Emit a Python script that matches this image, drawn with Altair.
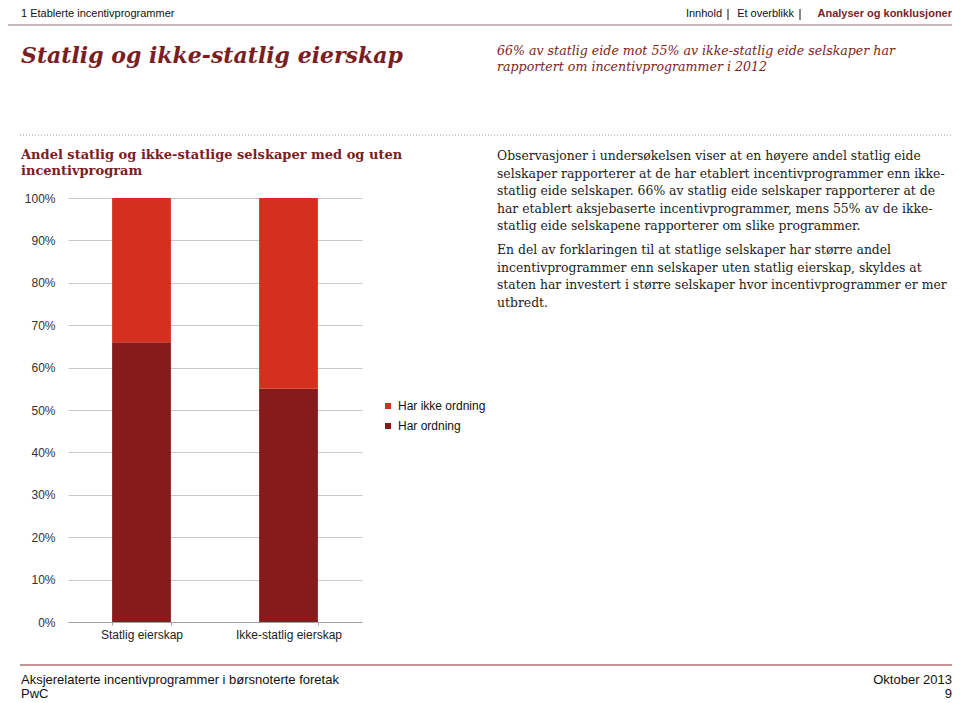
import altair as alt
import pandas as pd

# ---- data ----
categories = ["Statlig eierskap", "Ikke-statlig eierskap"]
har_ordning = [0.66, 0.55]
har_ikke_ordning = [0.34, 0.45]
series_names = ["Har ikke ordning", "Har ordning"]
y_ticks = [0, 0.1, 0.2, 0.3, 0.4, 0.5, 0.6, 0.7, 0.8, 0.9, 1.0]

header_left = "1 Etablerte incentivprogrammer"
nav_items = ["Innhold", "Et overblikk", "Analyser og konklusjoner"]
title = "Statlig og ikke-statlig eierskap"
subtitle = ["66% av statlig eide mot 55% av ikke-statlig eide selskaper har",
            "rapportert om incentivprogrammer i 2012"]
chart_title = ["Andel statlig og ikke-statlige selskaper med og uten",
               "incentivprogram"]
para1 = ["Observasjoner i undersøkelsen viser at en høyere andel statlig eide",
         "selskaper rapporterer at de har etablert incentivprogrammer enn ikke-",
         "statlig eide selskaper. 66% av statlig eide selskaper rapporterer at de",
         "har etablert aksjebaserte incentivprogrammer, mens 55% av de ikke-",
         "statlig eide selskapene rapporterer om slike programmer."]
para2 = ["En del av forklaringen til at statlige selskaper har større andel",
         "incentivprogrammer enn selskaper uten statlig eierskap, skyldes at",
         "staten har investert i større selskaper hvor incentivprogrammer er mer",
         "utbredt."]
footer_left = ["Aksjerelaterte incentivprogrammer i børsnoterte foretak", "PwC"]
footer_right = ["Oktober 2013", "9"]

RED = "#D5301F"
DARK = "#871B1C"
TITLE_RED = "#7A1E24"
SERIF = "DejaVu Serif"
SANS = "Liberation Sans"

rows = []
for i, c in enumerate(categories):
    rows.append({"kategori": c, "serie": series_names[1], "andel": har_ordning[i], "ord": 0})
    rows.append({"kategori": c, "serie": series_names[0], "andel": har_ikke_ordning[i], "ord": 1})
df = pd.DataFrame(rows)

bars = alt.Chart(df).mark_bar().encode(
    x=alt.X("kategori:N", sort=categories,
            scale=alt.Scale(paddingInner=0.6, paddingOuter=0.3),
            axis=alt.Axis(title=None, labelAngle=0, labelFont=SANS, labelFontSize=12,
                          labelColor="#222", domainColor="#A0A0A0", tickColor="#A0A0A0",
                          tickBand="extent", tickSize=3, labelPadding=4, grid=False)),
    y=alt.Y("andel:Q", stack="zero", scale=alt.Scale(domain=[0, 1]),
            axis=alt.Axis(title=None, values=y_ticks, format=".0%", labelFont=SANS,
                          labelFontSize=12, labelColor="#333", domain=False, ticks=False,
                          labelPadding=13, gridColor="#C8C8C8", grid=True)),
    color=alt.Color("serie:N", scale=alt.Scale(domain=series_names, range=[RED, DARK]),
                    legend=alt.Legend(title=None, orient="none", legendX=314, legendY=202,
                                      symbolType="square", symbolSize=36,
                                      symbolStrokeWidth=0, labelFont=SANS,
                                      labelFontSize=12, labelColor="#111", rowPadding=8,
                                      labelOffset=4, padding=0)),
    order=alt.Order("ord:Q"),
)

one = pd.DataFrame({"a": [0]})


def txt(lines, x, y, size, font=SANS, color="#111", align="left", weight="normal",
        style="normal", lh=None):
    kw = dict(text=lines, align=align, baseline="alphabetic", font=font, fontSize=size,
              color=color, fontWeight=weight, fontStyle=style)
    if lh is not None:
        kw["lineHeight"] = lh
    return alt.Chart(one).mark_text(**kw).encode(x=alt.value(x), y=alt.value(y))


def hrule(x1, x2, y, color, dash=None, width=1):
    kw = dict(color=color, strokeWidth=width)
    if dash:
        kw["strokeDash"] = dash
    return alt.Chart(one).mark_rule(**kw).encode(
        x=alt.value(x1), x2=alt.value(x2), y=alt.value(y))


def vrule(x, y1, y2, color, width=1):
    return alt.Chart(one).mark_rule(color=color, strokeWidth=width).encode(
        x=alt.value(x), y=alt.value(y1), y2=alt.value(y2))

# plot origin is at page (68, 198)
layers = [
    bars,
    txt(header_left, -47, -181, 11),
    txt(nav_items[2], 884, -181, 11, color=TITLE_RED, align="right", weight="bold"),
    txt(nav_items[1], 726, -181, 11, align="right"),
    txt(nav_items[0], 654, -181, 11, align="right"),
    vrule(732, -189, -178, "#111"),
    vrule(660, -189, -178, "#111"),
    hrule(-64, 887, -173, "#8C7474"),
    vrule(-64, -173, -158, "#8C7474"),
    txt(title, -47, -135, 22, font=SERIF, color=TITLE_RED, weight="bold", style="italic"),
    txt(subtitle, 429, -143, 12.6, font=SERIF, color=TITLE_RED, style="italic", lh=15.7),
    hrule(-48, 890, -63, "#999", dash=[1, 2]),
    txt(chart_title, -47, -39, 13, font=SERIF, color=TITLE_RED, weight="bold", lh=16),
    txt(para1, 429, -38, 12.4, font=SERIF, color="#222", lh=17.6),
    txt(para2, 429, 56, 12.4, font=SERIF, color="#222", lh=17.6),
    hrule(-48, 887, 467, "#8B2A2A"),
    txt(footer_left, -47, 486, 13, lh=14),
    txt(footer_right, 884, 486, 13, align="right", lh=14),
]

chart = alt.layer(*layers).properties(
    width=294, height=424,
    autosize=alt.AutoSizeParams(type="none"),
    padding={"left": 60, "top": 190, "right": 590, "bottom": 80},
).configure_view(stroke=None)

chart.save("out.html", embed_options={"renderer": "svg", "actions": False})
